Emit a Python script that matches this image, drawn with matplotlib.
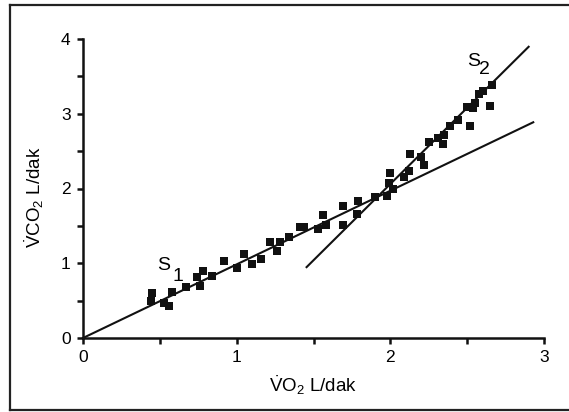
import matplotlib
matplotlib.use("Agg")
import matplotlib.pyplot as plt
from matplotlib.lines import Line2D
import numpy as np

plt.rcParams['font.family'] = ['Liberation Sans', 'DejaVu Sans']
plt.rcParams['mathtext.fontset'] = 'custom'
plt.rcParams['mathtext.rm'] = 'Liberation Sans'
plt.rcParams['mathtext.it'] = 'Liberation Sans'
plt.rcParams['mathtext.bf'] = 'Liberation Sans:bold'

# Data
vo2 = [0.44, 0.45, 0.53, 0.56, 0.58, 0.67, 0.74, 0.76, 0.78, 0.84,
       0.92, 1.00, 1.05, 1.10, 1.16, 1.22, 1.26, 1.28, 1.34, 1.41,
       1.44, 1.53, 1.56, 1.58, 1.69, 1.69, 1.79, 1.78, 1.90, 1.98,
       2.00, 1.99, 2.02, 2.09, 2.12, 2.13, 2.20, 2.22, 2.25, 2.31,
       2.34, 2.35, 2.39, 2.44, 2.50, 2.52, 2.54, 2.55, 2.58, 2.60,
       2.65, 2.66]
vco2 = [0.50, 0.60, 0.47, 0.43, 0.61, 0.68, 0.81, 0.70, 0.89, 0.83,
        1.03, 0.93, 1.12, 0.99, 1.06, 1.29, 1.16, 1.28, 1.35, 1.48,
        1.49, 1.46, 1.64, 1.51, 1.76, 1.51, 1.83, 1.66, 1.89, 1.90,
        2.21, 2.07, 2.00, 2.15, 2.24, 2.46, 2.42, 2.32, 2.62, 2.68,
        2.60, 2.71, 2.83, 2.92, 3.09, 2.84, 3.08, 3.15, 3.27, 3.31,
        3.10, 3.39]

# Fitted lines: (slope, intercept, x_start, x_end)
s1_fit = (0.985, 0.0, 0.0, 2.93)
s2_fit = (2.04, -2.02, 1.455, 2.90)

x_ticks = [0, 1, 2, 3]
y_ticks = [0, 1, 2, 3, 4]

fig = plt.figure(figsize=(5.69, 4.12), dpi=100)
ax = fig.add_axes([83/569, 1-338/412, (544-83)/569, (338-39)/412])

ax.plot(vo2, vco2, 's', color='#111111', markersize=5.8, markeredgewidth=0, zorder=3)
for m, b, x0, x1 in (s1_fit, s2_fit):
    xs = np.array([x0, x1])
    ax.plot(xs, m*xs + b, color='#111111', lw=1.5, zorder=2, clip_on=False)

ax.set_xlim(0, 3)
ax.set_ylim(0, 4)
ax.set_xticks(x_ticks)
ax.set_yticks(y_ticks)
ax.set_xticks(np.arange(0, 3.01, 0.5), minor=True)
ax.set_yticks(np.arange(0, 4.01, 0.5), minor=True)
for s in ('top', 'right'):
    ax.spines[s].set_visible(False)
for s in ('left', 'bottom'):
    ax.spines[s].set_linewidth(1.8)
    ax.spines[s].set_color('#111111')
ax.tick_params(which='both', direction='out', length=4, width=1.8, color='#111111',
               labelsize=12.5, pad=5)

ax.set_xlabel(r'$\dot{\mathrm{V}}\mathrm{O}_{2}$ L/dak', fontsize=13.5, labelpad=6)
ax.set_ylabel(r'$\dot{\mathrm{V}}\mathrm{CO}_{2}$ L/dak', fontsize=13.5, labelpad=12)
ax.yaxis.set_label_coords(-0.08, 0.47)

ax.text(0.48, 0.91, 'S', fontsize=14, ha='left', va='baseline')
ax.text(0.58, 0.765, '1', fontsize=14, ha='left', va='baseline')
ax.text(2.50, 3.64, 'S', fontsize=14, ha='left', va='baseline')
ax.text(2.58, 3.53, '2', fontsize=14, ha='left', va='baseline')

# outer frame (left, top, bottom)
L, T, B = 9.5/569, 1-5/412, 1-410/412
for xs, ys in (([L, L], [B, T]), ([L, 1.0], [T, T]), ([L, 1.0], [B, B])):
    fig.add_artist(Line2D(xs, ys, transform=fig.transFigure, color='#222222', lw=1.6))

fig.savefig('out.png', dpi=100)
